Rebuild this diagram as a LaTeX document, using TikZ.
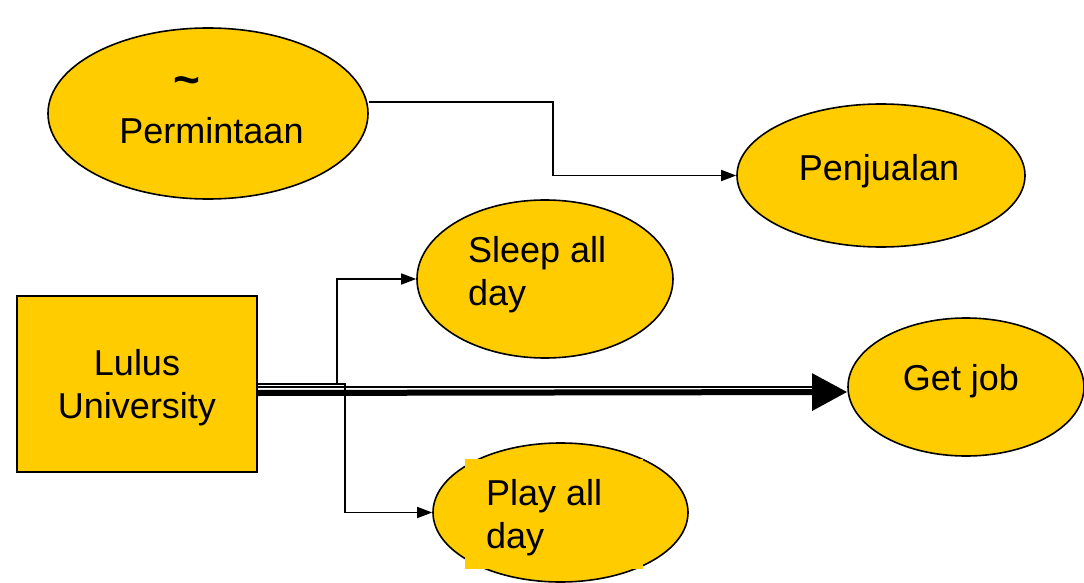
\documentclass[tikz,border=0pt]{standalone}
\usepackage{fontspec}
\setmainfont{Liberation Sans}
\usetikzlibrary{shapes.geometric,arrows.meta}
\definecolor{gold}{RGB}{255,204,0}
\tikzset{
  oval/.style={ellipse, draw=black, line width=1.6pt, fill=gold, inner sep=0pt},
  boxnode/.style={rectangle, draw=black, line width=2.2pt, fill=gold, inner sep=0pt},
  lbl/.style={font=\fontsize{36}{43}\selectfont, inner sep=0pt, text=black},
  conn/.style={draw=black, line width=1.5pt, -{Triangle[length=15pt,width=11pt]}},
}
\begin{document}
\begin{tikzpicture}[x=1pt,y=-1pt]
\useasboundingbox (0,0) rectangle (1084,583);
% shapes
\node[oval, minimum width=320pt, minimum height=171pt] (perm) at (208,113.5) {};
\node[oval, minimum width=288pt, minimum height=143pt] (pen) at (881,175.5) {};
\node[oval, minimum width=256pt, minimum height=158pt] (sleep) at (545,279) {};
\node[oval, minimum width=236pt, minimum height=138pt] (getjob) at (966,387) {};
\node[oval, minimum width=255pt, minimum height=139pt] (play) at (560.5,512.5) {};
\node[rectangle, fill=gold, inner sep=0pt, minimum width=178pt, minimum height=110pt] (playbox) at (554,514) {};
\node[boxnode, minimum width=240pt, minimum height=176pt] (lulus) at (137,384) {};
% texts
\node[lbl, font=\fontsize{46}{50}\selectfont\bfseries] (tilde) at (187,86) {\char"007E};
\node[lbl, anchor=base] (permtxt) at (211.5,143) {Permintaan};
\node[lbl, anchor=base] (pentxt) at (879,180) {Penjualan};
\node[lbl, anchor=base west] (sleep1) at (468,262) {Sleep all};
\node[lbl, anchor=base west] (sleep2) at (468,305) {day};
\node[lbl, anchor=base] (getjobtxt) at (961,390) {Get job};
\node[lbl, anchor=base west] (play1) at (486,505) {Play all};
\node[lbl, anchor=base west] (play2) at (486,548) {day};
\node[lbl, anchor=base] (lulus1) at (137,375) {Lulus};
\node[lbl, anchor=base] (lulus2) at (137,418) {University};
% connectors
\coordinate (permout) at (perm.east |- 0,102);
\draw[conn] (permout) -- (553,102) |- (pen.west);
\draw[conn] (lulus.east) -- (337,384) |- (sleep.west);
\draw[conn] (lulus.east) -- (345,384) |- (play.west);
\coordinate (thinend) at (813,387);
\draw[line width=1.5pt] (lulus.east |- 0,387) -- (thinend);
\draw[line width=6pt, -{Triangle[length=35pt,width=36pt]}] (lulus.east |- 0,393) -- (getjob.west |- 0,392);
\end{tikzpicture}
\end{document}
